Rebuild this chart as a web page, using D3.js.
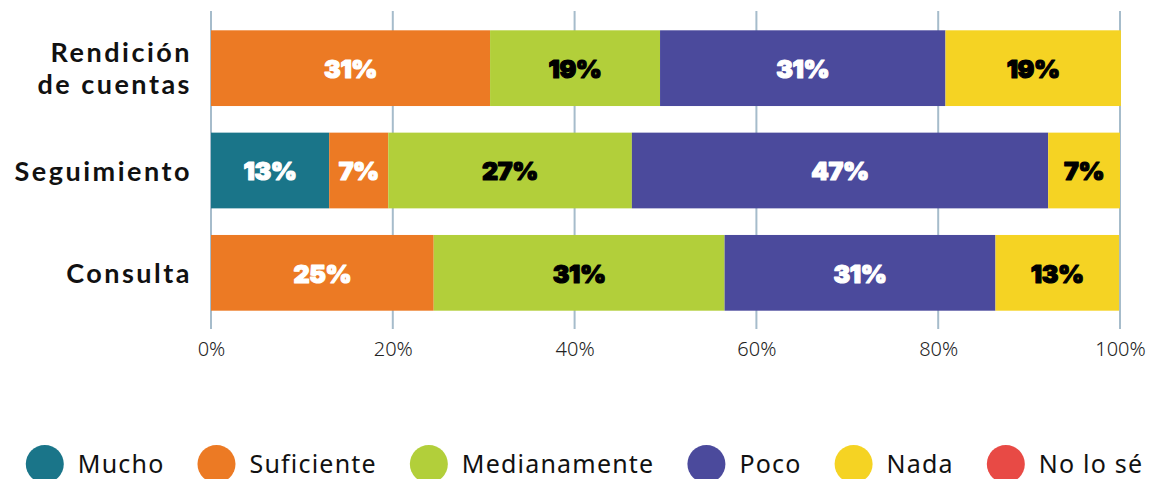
<!DOCTYPE html>
<html>
<head>
<meta charset="utf-8">
<script src="https://cdn.jsdelivr.net/npm/d3@7/dist/d3.min.js"></script>
<style>
  html, body { margin: 0; padding: 0; background: #ffffff; }
  svg { display: block; }
</style>
</head>
<body>
<svg id="chart" width="1159" height="479"></svg>
<script>
// ---- data ----
const categories = ["Rendición de cuentas", "Seguimiento", "Consulta"];
const seriesNames = ["Mucho", "Suficiente", "Medianamente", "Poco", "Nada", "No lo sé"];
const mucho        = [0,    13.0, 0];
const suficiente   = [30.7, 6.5,  24.5];
const medianamente = [18.7, 26.8, 32.0];
const poco         = [31.4, 45.8, 29.8];
const nada         = [19.3, 7.9,  13.6];
const noLoSe       = [0,    0,    0];
// labels as printed on the chart
const labelMucho        = ["", "13%", ""];
const labelSuficiente   = ["31%", "7%", "25%"];
const labelMedianamente = ["19%", "27%", "31%"];
const labelPoco         = ["31%", "47%", "31%"];
const labelNada         = ["19%", "7%", "13%"];
const labelNoLoSe       = ["", "", ""];
const tickValues = [0, 20, 40, 60, 80, 100];

const seriesValues = [mucho, suficiente, medianamente, poco, nada, noLoSe];
const seriesLabels = [labelMucho, labelSuficiente, labelMedianamente, labelPoco, labelNada, labelNoLoSe];
const colors = ["#1a7589", "#ec7a24", "#b2cf3a", "#4b4a9c", "#f5d323", "#e84a45"];
const labelColors = ["#ffffff", "#ffffff", "#000000", "#ffffff", "#000000", "#ffffff"];

// ---- build table ----
const table = categories.map((c, i) => {
  const row = { category: c };
  seriesNames.forEach((s, j) => { row[s] = seriesValues[j][i]; });
  return row;
});
const stacked = d3.stack().keys(seriesNames)(table);

const svg = d3.select("#chart");
const x = d3.scaleLinear().domain([0, 100]).range([211, 1120]);
const y = d3.scaleBand().domain(categories).range([17, 324]).paddingInner(0.26).paddingOuter(0.13);

// grid
svg.append("g").selectAll("line").data(tickValues).join("line")
  .attr("x1", d => x(d)).attr("x2", d => x(d))
  .attr("y1", 11).attr("y2", 329)
  .attr("stroke", "#a6bccb").attr("stroke-width", 2);

// bars
const layers = svg.append("g").selectAll("g").data(stacked).join("g")
  .attr("fill", (d, i) => colors[i]);
layers.selectAll("rect").data(d => d.map(p => ({ p, key: d.key }))).join("rect")
  .attr("x", d => x(d.p[0]))
  .attr("y", d => y(d.p.data.category))
  .attr("width", d => Math.max(0, x(d.p[1]) - x(d.p[0])))
  .attr("height", y.bandwidth());

// value labels
stacked.forEach((layer, si) => {
  svg.append("g").selectAll("text").data(layer.map((p, ci) => ({ p, ci }))).join("text")
    .filter(d => seriesLabels[si][d.ci] !== "")
    .attr("x", d => x((d.p[0] + d.p[1]) / 2))
    .attr("y", d => y(d.p.data.category) + y.bandwidth() / 2 + 3)
    .attr("text-anchor", "middle")
    .attr("dominant-baseline", "middle")
    .attr("font-family", "Inter, 'DejaVu Sans', sans-serif")
    .attr("font-weight", 900)
    .attr("font-size", 25)
    .attr("letter-spacing", -0.4)
    .attr("fill", labelColors[si])
    .attr("stroke", labelColors[si])
    .attr("stroke-width", 1.2)
    .attr("stroke-linejoin", "round")
    .text(d => seriesLabels[si][d.ci]);
});

// category labels
const catG = svg.append("g");
categories.forEach(c => {
  const words = c === "Rendición de cuentas" ? ["Rendición", "de cuentas"] : [c];
  const cy = y(c) + y.bandwidth() / 2;
  const lh = 32.6;
  words.forEach((w, k) => {
    catG.append("text")
      .attr("text-anchor", "end")
      .attr("font-family", "Lato, 'Open Sans', sans-serif")
      .attr("font-weight", 700)
      .attr("font-size", 27)
      .attr("letter-spacing", 2.5)
      .attr("fill", "#111111")
      .attr("x", 192)
      .attr("y", cy + 10 + (k - (words.length - 1) / 2) * lh)
      .text(w);
  });
});

// x axis labels
const axis = d3.axisBottom(x).tickValues(tickValues).tickFormat(d => d + "%").tickSize(0).tickPadding(0);
const ax = svg.append("g").attr("transform", "translate(0,342)").call(axis);
ax.select(".domain").remove();
ax.selectAll("text")
  .attr("font-family", "'Noto Sans', sans-serif")
  .attr("font-weight", 300)
  .attr("font-size", 20)
  .attr("fill", "#222222");

// legend
const leg = svg.append("g");
const items = leg.selectAll("g").data(seriesNames).join("g");
items.append("circle").attr("r", 19).attr("cy", 0).attr("cx", 19)
  .attr("fill", (d, i) => colors[i]);
items.append("text").attr("x", 52).attr("y", 9)
  .attr("font-family", "'Noto Sans', sans-serif")
  .attr("font-size", 25)
  .attr("letter-spacing", 1.2)
  .attr("fill", "#111111")
  .text(d => d);
let cx = 0;
const offs = [];
items.each(function(d, i) {
  const w = 52 + d3.select(this).select("text").node().getComputedTextLength();
  offs.push(cx);
  cx += w + 33;
});
const total = cx - 33;
const start = 584.5 - total / 2;
items.attr("transform", (d, i) => `translate(${start + offs[i]},464)`);
</script>
</body>
</html>
